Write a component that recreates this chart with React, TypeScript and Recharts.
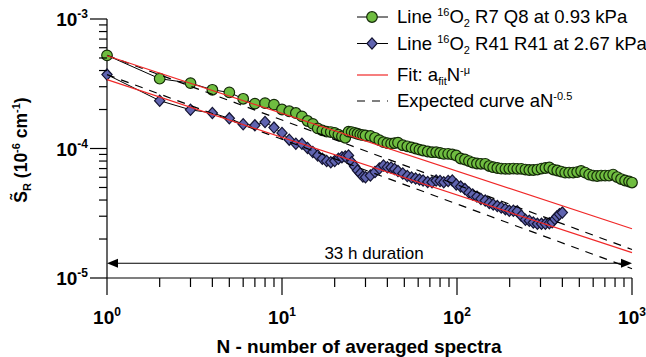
import { ScatterChart, Scatter, XAxis, YAxis, ReferenceLine, Legend } from 'recharts';

const FONT = '"Liberation Sans", Arial, Helvetica, sans-serif';

// values, S_R in units of 1e-4
const greenN = [
  1, 2, 3, 4, 5, 6, 7, 8, 9, 10, 11, 12, 13, 14, 15, 16, 17, 18, 19, 20, 21, 22, 23, 24, 25, 26, 27, 28, 29, 30,
  32, 34, 36, 38, 40, 42, 44, 46, 49, 52, 55, 58, 61, 64, 68, 72, 76, 80, 84, 89, 94, 99,
  105, 111, 117, 123, 130, 137, 145, 153, 161, 170, 179, 189, 199,
  210, 221, 233, 246, 259, 273, 288, 304, 320, 337, 355, 374, 394,
  415, 437, 461, 486, 512, 540, 569, 600, 632, 666, 702, 740, 780, 822, 866, 913, 962, 1000,
];
const greenS = [
  5.24, 3.46, 3.2, 2.84, 2.71, 2.42, 2.22, 2.24, 2.18, 2.0, 1.94, 1.88, 1.77, 1.63, 1.55, 1.43, 1.38, 1.35, 1.34, 1.32,
  1.28, 1.24, 1.21, 1.35, 1.34, 1.32, 1.3, 1.28, 1.27, 1.26,
  1.25, 1.21, 1.16, 1.12, 1.1, 1.09, 1.1, 1.11, 1.06, 1.04, 1.02, 1.0, 0.98, 0.965, 0.948, 0.936, 0.936, 0.923, 0.91, 0.91, 0.9, 0.883,
  0.837, 0.822, 0.8, 0.779, 0.766, 0.762, 0.762, 0.732, 0.717, 0.707, 0.7, 0.697, 0.697,
  0.7, 0.697, 0.697, 0.688, 0.682, 0.682, 0.688, 0.7, 0.707, 0.713, 0.688, 0.676, 0.664,
  0.652, 0.652, 0.652, 0.658, 0.67, 0.652, 0.629, 0.618, 0.613, 0.618, 0.618, 0.618, 0.629, 0.602, 0.581, 0.566, 0.556, 0.546,
];

const blueN = [
  1, 2, 3, 4, 5, 6, 7, 8, 9, 10, 11, 12, 13, 14, 15, 16, 17, 18, 19, 20, 21, 22, 23, 24, 25, 26, 27, 28, 29,
  30, 32, 34, 36, 38, 40, 42, 44, 46, 49, 52, 55, 58, 61, 64, 68, 72, 76, 80, 84, 89, 94, 99,
  105, 111, 117, 123, 130, 137, 145, 153, 161, 170, 179, 189, 199,
  210, 221, 233, 246, 259, 273, 288, 304, 320, 337, 350, 362, 372, 385, 400,
];
const blueS = [
  3.72, 2.34, 1.99, 1.88, 1.71, 1.54, 1.51, 1.6, 1.45, 1.32, 1.17, 1.087, 1.087, 1.01, 0.94, 0.883, 0.833, 0.8, 0.784, 0.8,
  0.833, 0.857, 0.867, 0.883, 0.784, 0.726, 0.676, 0.641, 0.607,
  0.6, 0.618, 0.658, 0.7, 0.739, 0.717, 0.713, 0.694, 0.67, 0.641, 0.613, 0.597, 0.586, 0.576, 0.566, 0.551, 0.549, 0.566, 0.561, 0.549, 0.561, 0.566, 0.527,
  0.508, 0.486, 0.457, 0.441, 0.425, 0.408, 0.396, 0.379, 0.369, 0.359, 0.35, 0.34, 0.331,
  0.331, 0.328, 0.303, 0.282, 0.277, 0.268, 0.262, 0.262, 0.262, 0.265, 0.27, 0.285, 0.298, 0.311, 0.32,
];

// straight lines on log-log axes, end points at N = 1 and N = 1000
const lineN = [1, 1000];
const fitGreenS = [5.2, 0.24];
const fitBlueS = [3.4, 0.157];
const expGreenS = [5.24, 0.166];
const expBlueS = [3.72, 0.118];

const xDecades = [1, 10, 100, 1000];
const yDecades = [1e-5, 1e-4, 1e-3];
const minorSteps = [2, 3, 4, 5, 6, 7, 8, 9];
const durationY = 1.3e-5;

const rows = (n: number[], s: number[]) => n.map((v, i) => ({ n: v, s: s[i] * 1e-4 }));
const withMinors = (dec: number[]) =>
  dec.flatMap((d, i) => (i < dec.length - 1 ? [d, ...minorSteps.map((m) => d * m)] : [d]));

const xTicks = withMinors(xDecades);
const yTicks = withMinors(yDecades);

const isMajor = (v: number) => Math.abs(Math.log10(v) - Math.round(Math.log10(v))) < 1e-6;

const XTick = ({ x, y, payload }: any) => {
  const major = isMajor(payload.value);
  return (
    <g>
      <line x1={x} y1={y} x2={x} y2={y + (major ? 17 : 9)} stroke="#000" strokeWidth={1.2} />
      {major && (
        <text x={x} y={y + 46} textAnchor="middle" fontFamily={FONT} fontWeight="bold" fontSize={19} fill="#000">
          10<tspan dy={-8} fontSize={12}>{Math.round(Math.log10(payload.value))}</tspan>
        </text>
      )}
    </g>
  );
};

const YTick = ({ x, y, payload }: any) => {
  const major = isMajor(payload.value);
  return (
    <g>
      <line x1={x - (major ? 17 : 8)} y1={y} x2={x} y2={y} stroke="#000" strokeWidth={1.2} />
      {major && (
        <text x={x - 19} y={y + 7} textAnchor="end" fontFamily={FONT} fontWeight="bold" fontSize={19} fill="#000">
          10<tspan dy={-8} fontSize={12}>{Math.round(Math.log10(payload.value))}</tspan>
        </text>
      )}
    </g>
  );
};

const GreenDot = ({ cx, cy }: any) => (
  <circle cx={cx} cy={cy} r={5.3} fill="#6fbd40" stroke="#142a08" strokeWidth={1.2} />
);
const BlueDiamond = ({ cx, cy }: any) => (
  <polygon
    points={`${cx},${cy - 5.6} ${cx + 5.1},${cy} ${cx},${cy + 5.6} ${cx - 5.1},${cy}`}
    fill="#6064b0"
    stroke="#141432"
    strokeWidth={1.2}
  />
);
const NoDot = () => <g />;

const DurationArrow = ({ x1, y1, x2 }: any) => (
  <g>
    <line x1={x1 + 8} y1={y1} x2={x2 - 8} y2={y1} stroke="#000" strokeWidth={1.2} />
    <polygon points={`${x1},${y1} ${x1 + 11},${y1 - 4.5} ${x1 + 11},${y1 + 4.5}`} fill="#000" />
    <polygon points={`${x2},${y1} ${x2 - 11},${y1 - 4.5} ${x2 - 11},${y1 + 4.5}`} fill="#000" />
    <text x={x1 + 267} y={y1 - 4.5} textAnchor="middle" fontFamily={FONT} fontSize={17} fill="#000">
      33 h duration
    </text>
  </g>
);

const LegendBox = () => (
  <svg width={646} height={120} style={{ display: 'block' }} fontFamily={FONT} fontSize={18.5} fill="#000">
    <line x1={357} y1={17} x2={388} y2={17} stroke="#000" strokeWidth={1} />
    <GreenDot cx={372} cy={17} />
    <text x={397} y={23}>
      Line{' '}<tspan fontSize={11} dy={-7}>16</tspan><tspan dy={7}>O</tspan><tspan fontSize={11} dy={4}>2</tspan>
      <tspan dy={-4}> R7 Q8 at 0.93 kPa</tspan>
    </text>
    <line x1={357} y1={43.5} x2={388} y2={43.5} stroke="#000" strokeWidth={1} />
    <BlueDiamond cx={372} cy={43.5} />
    <text x={397} y={49.5}>
      Line{' '}<tspan fontSize={11} dy={-7}>16</tspan><tspan dy={7}>O</tspan><tspan fontSize={11} dy={4}>2</tspan>
      <tspan dy={-4}> R41 R41 at 2.67 kPa</tspan>
    </text>
    <line x1={357} y1={75} x2={388} y2={75} stroke="#f02828" strokeWidth={1.2} />
    <text x={397} y={81}>
      Fit: a<tspan fontSize={11} dy={4}>fit</tspan><tspan dy={-4}>N</tspan><tspan fontSize={11} dy={-7}>-μ</tspan>
    </text>
    <line x1={357} y1={101} x2={388} y2={101} stroke="#000" strokeWidth={1.2} strokeDasharray="8 7" />
    <text x={397} y={107}>
      Expected curve aN<tspan fontSize={11} dy={-7}>-0.5</tspan>
    </text>
  </svg>
);

const XTitle = () => (
  <text x={359} y={353} textAnchor="middle" fontFamily={FONT} fontWeight="bold" fontSize={19} fill="#000">
    N - number of averaged spectra
  </text>
);

const YTitle = () => (
  <text
    x={27}
    y={150}
    transform="rotate(-90 27 150)"
    textAnchor="middle"
    fontFamily={FONT}
    fontWeight="bold"
    fontSize={17.5}
    fill="#000"
  >
    S̃<tspan fontSize={11} dy={4}>R</tspan><tspan dy={-4}> (10</tspan><tspan fontSize={11} dy={-7}>-6</tspan>
    <tspan dy={7}> cm</tspan><tspan fontSize={11} dy={-7}>-1</tspan><tspan dy={7}>)</tspan>
  </text>
);

export default function App() {
  return (
    <div style={{ position: 'absolute', left: 0, top: 0, width: 646, height: 357, background: '#fff' }}>
      <ScatterChart width={646} height={357} margin={{ top: 19, right: 14, bottom: 0, left: 0 }}>
        <XAxis
          dataKey="n"
          type="number"
          scale="log"
          domain={[1, 1000]}
          ticks={xTicks}
          interval={0}
          tickSize={0}
          tickMargin={0}
          tick={<XTick />}
          height={79}
          axisLine={{ stroke: '#000', strokeWidth: 1.2 }}
          label={{ content: () => <XTitle /> }}
        />
        <YAxis
          dataKey="s"
          type="number"
          scale="log"
          domain={[1e-5, 1e-3]}
          ticks={yTicks}
          interval={0}
          tickSize={0}
          tickMargin={0}
          tick={<YTick />}
          width={107}
          axisLine={{ stroke: '#000', strokeWidth: 1.2 }}
          label={{ content: () => <YTitle /> }}
        />
        <Legend
          content={() => <LegendBox />}
          layout="horizontal"
          verticalAlign="middle"
          align="center"
          wrapperStyle={{ top: 0, left: 0, width: 646, height: 120 }}
        />
        <ReferenceLine y={durationY} shape={(p: any) => <DurationArrow {...p} />} />
        <Scatter
          data={rows(greenN, greenS)}
          isAnimationActive={false}
          line={{ stroke: '#000', strokeWidth: 1 }}
          shape={GreenDot}
        />
        <Scatter
          data={rows(blueN, blueS)}
          isAnimationActive={false}
          line={{ stroke: '#000', strokeWidth: 1 }}
          shape={BlueDiamond}
        />
        <Scatter
          data={rows(lineN, expGreenS)}
          isAnimationActive={false}
          line={{ stroke: '#000', strokeWidth: 1.2, strokeDasharray: '8 7' }}
          shape={NoDot}
        />
        <Scatter
          data={rows(lineN, expBlueS)}
          isAnimationActive={false}
          line={{ stroke: '#000', strokeWidth: 1.2, strokeDasharray: '8 7' }}
          shape={NoDot}
        />
        <Scatter
          data={rows(lineN, fitGreenS)}
          isAnimationActive={false}
          line={{ stroke: '#f02828', strokeWidth: 1.2 }}
          shape={NoDot}
        />
        <Scatter
          data={rows(lineN, fitBlueS)}
          isAnimationActive={false}
          line={{ stroke: '#f02828', strokeWidth: 1.2 }}
          shape={NoDot}
        />
      </ScatterChart>
    </div>
  );
}
